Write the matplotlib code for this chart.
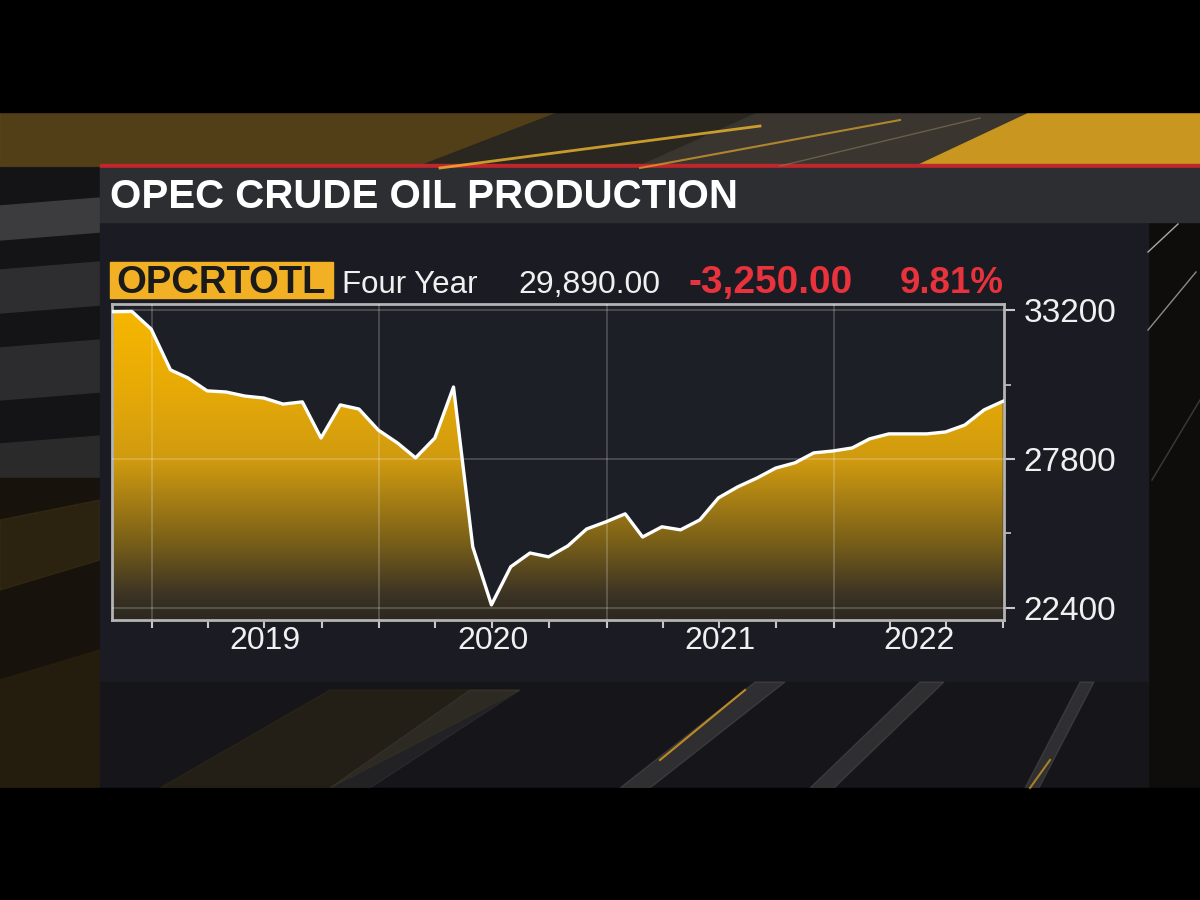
import numpy as np
import pandas as pd
import matplotlib
matplotlib.use("Agg")
import matplotlib.pyplot as plt
import matplotlib.dates as mdates
from matplotlib.colors import LinearSegmentedColormap
from matplotlib.patches import Rectangle, Polygon, PathPatch

plt.rcParams['font.family'] = ['Liberation Sans', 'DejaVu Sans']

# OPEC crude oil production, monthly (thousand b/d)
months = pd.date_range("2018-10-01", periods=48, freq="MS") + pd.offsets.MonthEnd(0)
production = [33140, 33150, 32510, 31030, 30740, 30270, 30230, 30080, 30010, 29790,
              29870, 28560, 29760, 29610, 28850, 28380, 27840, 28560, 30410, 24610,
              22510, 23890, 24390, 24250, 24650, 25260, 25520, 25810, 24970, 25340,
              25230, 25590, 26390, 26790, 27110, 27470, 27660, 28020, 28090, 28200,
              28530, 28710, 28710, 28710, 28780, 29030, 29580, 29890]

title = "OPEC CRUDE OIL PRODUCTION"
ticker = "OPCRTOTL"
period = "Four Year"
y_major = [22400, 27800, 33200]
y_minor = [25100, 30500]
years = [2019, 2020, 2021, 2022]

last = production[-1]
change = last - production[0]
pct = abs(change) / production[0] * 100

fig = plt.figure(figsize=(12, 9), dpi=100)
fig.patch.set_facecolor('black')

# ---- background / broadcast frame, in pixel coords ----
bg = fig.add_axes([0, 0, 1, 1], zorder=-1)
bg.set_xlim(0, 1200)
bg.set_ylim(900, 0)
bg.axis('off')

bg.add_patch(Rectangle((0, 112), 1200, 676, color='#141417'))
# top gold band
bg.add_patch(Rectangle((0, 112), 1200, 54, color='#3a2e16'))
bg.add_patch(Polygon([(0, 112), (560, 112), (420, 166), (0, 166)], color='#5a4418', alpha=0.8))
bg.add_patch(Polygon([(560, 112), (760, 112), (640, 166), (420, 166)], color='#2a2620'))
bg.add_patch(Polygon([(760, 112), (1030, 112), (915, 166), (640, 166)], color='#3a3632', alpha=0.9))
bg.add_patch(Polygon([(1030, 112), (1200, 112), (1200, 166), (915, 166)], color='#c99620'))
bg.plot([440, 760], [168, 126], color='#f0b830', lw=2, alpha=0.8)
bg.plot([640, 900], [168, 120], color='#e0a830', lw=1.5, alpha=0.7)
bg.plot([780, 980], [166, 118], color='#8a7a60', lw=1, alpha=0.6)

# left stripes
stripes = [(198, 232, '#3c3c3e'), (262, 305, '#2e2e30'), (340, 392, '#2c2c2e'), (436, 478, '#2a2a2a')]
for top, bot, c in stripes:
    bg.add_patch(Polygon([(0, top + 8), (100, top), (100, bot), (0, bot + 8)], color=c))
bg.add_patch(Rectangle((0, 478), 100, 310, color='#17130c'))
bg.add_patch(Polygon([(0, 520), (100, 500), (100, 560), (0, 590)], color='#3a2e14', alpha=0.6))
bg.add_patch(Polygon([(0, 680), (100, 650), (100, 788), (0, 788)], color='#2a200e', alpha=0.7))

# right dark column with thin lines
bg.add_patch(Rectangle((1148, 222), 52, 566, color='#0f0d0c'))
bg.plot([1148, 1178], [252, 224], color='#d0d0d0', lw=1, alpha=0.8)
bg.plot([1148, 1196], [330, 272], color='#c0c0c0', lw=1, alpha=0.7)
bg.plot([1152, 1200], [480, 400], color='#808080', lw=1, alpha=0.4)

# main panel
bg.add_patch(Rectangle((100, 222), 1048, 460, color='#1b1c23'))
bg.add_patch(Rectangle((100, 682), 1048, 106, color='#16161a'))
# faint glow and streaks under the panel
bg.add_patch(Polygon([(160, 788), (330, 690), (520, 690), (330, 788)], color='#4a3a12', alpha=0.25))
bg.add_patch(Polygon([(330, 788), (470, 690), (520, 690), (370, 788)], color='#6a6a6a', alpha=0.15))
for x0, x1, w in [(620, 755, 30), (810, 920, 24), (1025, 1080, 14)]:
    bg.add_patch(Polygon([(x0, 788), (x1, 682), (x1 + w, 682), (x0 + w, 788)],
                         color='#6a6a6a', alpha=0.3))
bg.plot([660, 745], [760, 690], color='#e0a020', lw=1.5, alpha=0.8)
bg.plot([1030, 1050], [788, 760], color='#e0a020', lw=1.5, alpha=0.7)

# title bar
bg.add_patch(Rectangle((100, 164), 1100, 4, color='#c0262c'))
bg.add_patch(Rectangle((100, 168), 1100, 54, color='#2c2e32'))
bg.text(110, 208, title, color='white', fontsize=29, fontweight='bold', va='baseline')

# header row
bg.add_patch(Rectangle((110, 262), 223, 36, color='#f2b124'))
bg.text(116, 293, ticker, color='#1a1a1a', fontsize=27.5, fontweight='bold', va='baseline')
bg.text(342, 293, period, color='#f0f0f0', fontsize=22.5, va='baseline')
bg.text(518, 293, f"{last:,.2f}", color='#f0f0f0', fontsize=23, va='baseline')
bg.text(688, 293, f"{change:,.2f}", color='#e8323c', fontsize=28, fontweight='bold', va='baseline')
bg.text(900, 293, f"{pct:.2f}%", color='#e8323c', fontsize=26.5, fontweight='bold', va='baseline')

# black letterbox
bg.add_patch(Rectangle((0, 0), 1200, 112, color='black'))
bg.add_patch(Rectangle((0, 788), 1200, 112, color='black'))

# ---- chart ----
ax = fig.add_axes([112 / 1200, 280 / 900, 892 / 1200, 316 / 900])
ax.set_facecolor('#1d1f26')

xlim = (mdates.date2num(pd.Timestamp("2018-10-29")), mdates.date2num(pd.Timestamp("2022-10-02")))
ylim = (21960, 33420)

gold = LinearSegmentedColormap.from_list('gold', [
    (0.0, '#2c2820'), (0.08, '#3c3424'), (0.25, '#7a6018'),
    (0.5, '#cf9a10'), (0.75, '#e8ab06'), (1.0, '#f8b800')])
grad = np.linspace(0, 1, 256).reshape(-1, 1)
im = ax.imshow(grad, extent=[xlim[0], xlim[1], ylim[0], ylim[1]], origin='lower',
               aspect='auto', cmap=gold, zorder=1)
area = ax.fill_between(months, production, ylim[0], color='none', lw=0)
clip = PathPatch(area.get_paths()[0], transform=ax.transData, fc='none', ec='none')
ax.add_patch(clip)
im.set_clip_path(clip)

ax.plot(months, production, color='white', lw=2.4, zorder=4, solid_joinstyle='round')

ax.set_xlim(xlim)
ax.set_ylim(ylim)

# grid: year boundaries and labelled levels
for yr in years:
    ax.axvline(pd.Timestamp(f"{yr}-01-01"), color='white', alpha=0.22, lw=1.2, zorder=3)
for v in y_major:
    ax.axhline(v, color='white', alpha=0.22, lw=1.2, zorder=3)

for s in ax.spines.values():
    s.set_color('#b4b4b4')
    s.set_linewidth(2)

ax.yaxis.tick_right()
ax.set_yticks(y_major)
ax.set_yticks(y_minor, minor=True)
ax.set_yticklabels([str(v) for v in y_major])
ax.tick_params(axis='y', which='major', length=8, width=1.5, color='#c8c8c8',
               labelcolor='#f0f0f0', labelsize=24, pad=6)
ax.tick_params(axis='y', which='minor', length=5, width=1.2, color='#c8c8c8')

ax.xaxis.set_major_locator(mdates.MonthLocator(bymonth=[1, 4, 7, 10]))
ax.xaxis.set_major_formatter(plt.NullFormatter())
ax.tick_params(axis='x', which='major', length=6, width=1.5, color='#c8c8c8')

# year labels centred on the visible part of each year
for yr in years:
    a = max(mdates.date2num(pd.Timestamp(f"{yr}-01-01")), xlim[0])
    b = min(mdates.date2num(pd.Timestamp(f"{yr + 1}-01-01")), xlim[1])
    ax.text((a + b) / 2, -0.066, str(yr), transform=ax.get_xaxis_transform(),
            ha='center', va='center', color='#f0f0f0', fontsize=23)

fig.savefig("out.png", dpi=100, facecolor='black')
